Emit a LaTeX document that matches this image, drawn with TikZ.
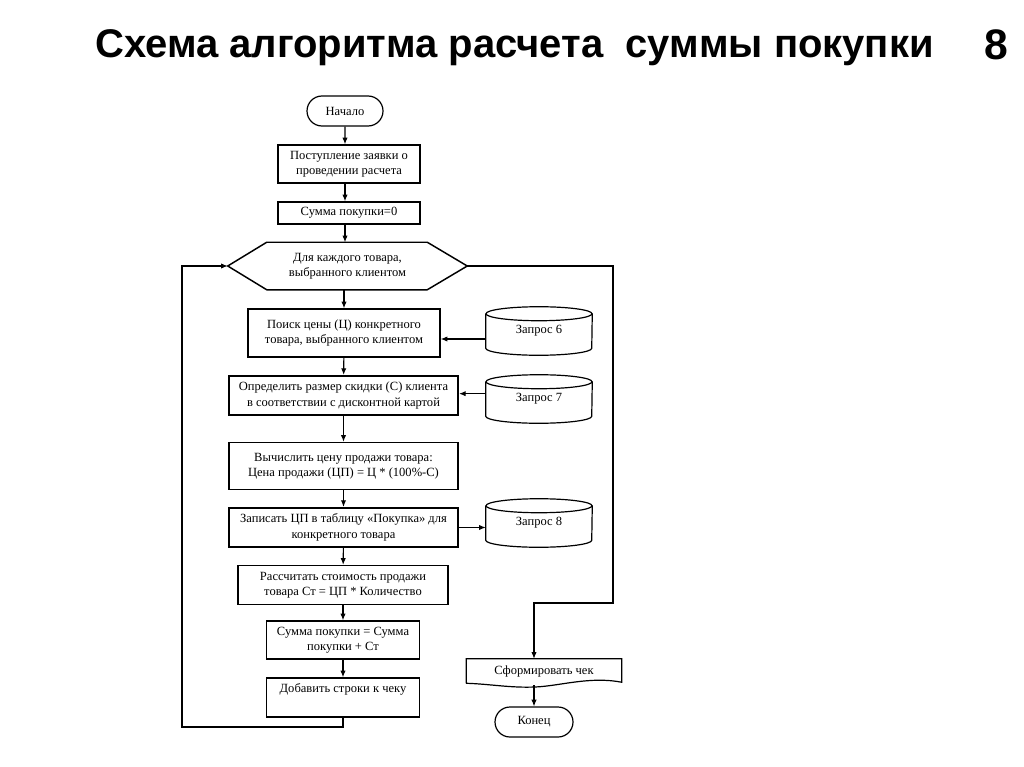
\documentclass[tikz,border=0pt]{standalone}
\usepackage{fontspec}
\setmainfont{Liberation Serif}
\newfontfamily\titlefont{Liberation Sans}
\usetikzlibrary{calc,arrows.meta,shapes.misc}
\newdimen\pxu \pxu=0.75pt
\tikzset{
  box/.style={draw, line width=1.1pt, align=center, inner sep=0pt, font=\fontsize{9.4pt}{11.5pt}\selectfont},
  boldbox/.style={box, line width=1.6pt},
  term/.style={draw, rounded rectangle, line width=0.9pt, inner sep=0pt, font=\fontsize{9.4pt}{11.5pt}\selectfont},
  plain/.style={align=center, inner sep=0pt, font=\fontsize{9.4pt}{11.5pt}\selectfont},
  conn/.style={line width=0.8pt},
  arr/.style={conn, -{Latex[length=5pt,width=4pt]}},
}
\begin{document}
\begin{tikzpicture}[x=0.75pt,y=-0.75pt]
\useasboundingbox[fill=white] (0,0) rectangle (1024,767);
% title
\node[anchor=west, inner sep=0pt, font=\titlefont\bfseries\fontsize{30pt}{34pt}\selectfont] (title) at (95,48) {Схема алгоритма расчета~~суммы покупки};
\node[inner sep=0pt, font=\titlefont\bfseries\fontsize{32pt}{36pt}\selectfont] (num) at (996,45) {8};

% nodes
\node[term, minimum width=76\pxu, minimum height=30\pxu] (start) at (345,111) {Начало};
\node[box, minimum width=142\pxu, minimum height=38\pxu] (b1) at (349,164) {Поступление заявки о\\проведении расчета};
\node[box, minimum width=142\pxu, minimum height=22\pxu] (b2) at (349,213) {Сумма покупки=0};
\node[plain, minimum width=239\pxu, minimum height=47\pxu] (hex) at (347.5,266) {Для каждого товара,\\выбранного клиентом};
\draw[line width=1.1pt] (hex.west) -- ($(hex.north west)+(39,0)$) -- ($(hex.north east)+(-40,0)$) -- (hex.east)
   -- ($(hex.south east)+(-40,0)$) -- ($(hex.south west)+(39,0)$) -- cycle;
\node[box, minimum width=192\pxu, minimum height=48\pxu] (b3) at (344,333) {Поиск цены (Ц) конкретного\\товара, выбранного клиентом};
\node[boldbox, minimum width=229\pxu, minimum height=39\pxu] (b4) at (343.5,395.5) {Определить размер скидки (С) клиента\\в соответствии с дисконтной картой};
\node[box, minimum width=229\pxu, minimum height=47\pxu] (b5) at (343.5,466) {Вычислить цену продажи товара:\\Цена продажи (ЦП) = Ц * (100\%-С)};
\node[boldbox, minimum width=229\pxu, minimum height=39\pxu] (b6) at (343.5,527.5) {Записать ЦП в таблицу «Покупка» для\\конкретного товара};
\node[box, minimum width=210\pxu, minimum height=39\pxu] (b7) at (343,585) {Рассчитать стоимость продажи\\товара Ст = ЦП * Количество};
\node[box, minimum width=153\pxu, minimum height=38\pxu] (b8) at (343,640) {Сумма покупки = Сумма\\покупки + Ст};
\node[draw, line width=1.1pt, minimum width=153\pxu, minimum height=39\pxu, inner sep=0pt] (b9) at (343,697.5) {};
\node[plain, anchor=north] (b9t) at (343,683) {Добавить строки к чеку};

% cylinders
\newcommand\dbcyl[1]{%
  \draw[line width=0.9pt] ($(#1.north west)+(0,7)$) -- ($(#1.south west)+(0,-7)$)
     arc[start angle=180, end angle=360, x radius=39.75pt, y radius=5.25pt] -- ($(#1.north east)+(0,7)$);
  \draw[line width=0.9pt] ($(#1.north)+(0,7)$) ellipse[x radius=39.75pt, y radius=5.25pt];}
\node[plain, minimum width=106\pxu, minimum height=48\pxu] (q6) at (539,331) {Запрос 6};
\dbcyl{q6}
\node[plain, minimum width=106\pxu, minimum height=48\pxu] (q7) at (539,399) {Запрос 7};
\dbcyl{q7}
\node[plain, minimum width=106\pxu, minimum height=48\pxu] (q8) at (539,523) {Запрос 8};
\dbcyl{q8}

% document shape
\node[plain, minimum width=155\pxu, minimum height=24\pxu] (doc) at (544,671) {Сформировать чек};
\draw[line width=0.9pt] (doc.south west) -- (doc.north west) -- (doc.north east) -- ($(doc.south east)+(0,-1)$)
   .. controls (590,676) and (560,686) .. (535,687) .. controls (510,688) and (490,684) .. (doc.south west);
\node[term, minimum width=78\pxu, minimum height=30\pxu] (end) at (534,722) {Конец};

% connectors
\draw[arr] (start) -- (start |- b1.north);
\draw[arr] (b1.south -| start) -- (b2.north -| start);
\draw[arr] (b2.south -| start) -- (hex.north -| start);
\draw[arr] (hex.south -| b3) -- (b3.north);
\draw[arr] (b3) -- (b4);
\draw[arr] (b4) -- (b5);
\draw[arr] (b5) -- (b6);
\draw[arr] (b6) -- (b7);
\draw[arr] (b7) -- (b8);
\draw[arr] (b8) -- (b9);
\draw[arr] ([yshift=-6]q6.west) -- ([yshift=-6]q6.west -| b3.east);
\draw[arr] ([yshift=4]q7.west) -- ([yshift=4]q7.west -| b4.east);
\draw[arr] (b6.east) -- (b6.east -| q8.west);
\coordinate (lb) at (182,727);
\draw[arr] (b9.south) |- (lb) |- (hex.west);
\coordinate (rt) at (613,266);
\coordinate (rb) at (613,603);
\draw[arr] (hex.east) -- (rt) -- (rb) -| (end |- doc.north);
\draw[arr] (end |- 0,685) -- (end.north);
\end{tikzpicture}
\end{document}
